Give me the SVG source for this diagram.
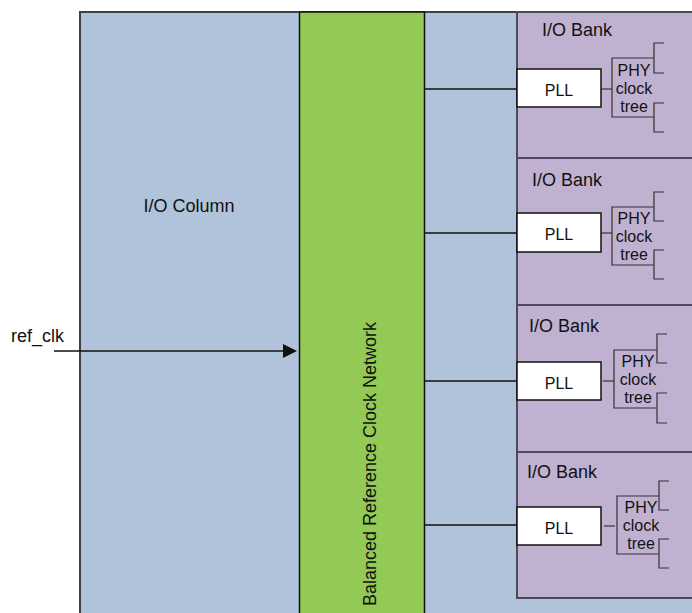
<svg xmlns="http://www.w3.org/2000/svg" width="692" height="613" viewBox="0 0 692 613">
<defs>
<style>
text{font-family:"Liberation Sans",Arial,sans-serif;font-size:18px;fill:#111}
.pll{fill:#fff;stroke:#111;stroke-width:1.5}
.bank{fill:#C1B1D1;stroke:#4a4a58;stroke-width:2}
.ln{stroke:#111;stroke-width:1.5;fill:none}
.tr{stroke:#333;stroke-width:1.2;fill:none}
.pt{font-size:16px}
.ph{font-size:16px}
</style>
</defs>
<g id="io-column">
<rect x="80" y="12" width="614" height="603" fill="#B0C3DB" stroke="#3f3f46" stroke-width="2"/>
<text x="189" y="212" text-anchor="middle">I/O Column</text>
</g>
<g id="clock-network">
<rect x="299.5" y="12" width="125" height="603" fill="#93C955" stroke="#111" stroke-width="1.5"/>
<text transform="translate(376,464) rotate(-90)" text-anchor="middle">Balanced Reference Clock Network</text>
</g>
<g id="bank1">
<rect class="bank" x="517" y="12" width="177" height="146"/>
<text x="542" y="36">I/O Bank</text>
<rect class="pll" x="517" y="69" width="84" height="38"/>
<text class="pt" x="559" y="96" text-anchor="middle">PLL</text>
<path class="tr" d="M654 58H612V117H654M664 43H654V73H664M664 103H654V132H664"/>
<text class="ph" x="634" y="76" text-anchor="middle">PHY</text>
<text class="ph" x="634" y="94" text-anchor="middle">clock</text>
<text class="ph" x="634" y="112" text-anchor="middle">tree</text>
</g>
<g id="bank2">
<rect class="bank" x="517" y="158" width="177" height="147"/>
<text x="532" y="186">I/O Bank</text>
<rect class="pll" x="517" y="213" width="84" height="39"/>
<text class="pt" x="559" y="240" text-anchor="middle">PLL</text>
<path class="tr" d="M654 207H612V265H654M664 192H654V221H664M664 250H654V279H664"/>
<text class="ph" x="634" y="224" text-anchor="middle">PHY</text>
<text class="ph" x="634" y="242" text-anchor="middle">clock</text>
<text class="ph" x="634" y="260" text-anchor="middle">tree</text>
</g>
<g id="bank3">
<rect class="bank" x="517" y="305" width="177" height="147"/>
<text x="529" y="332">I/O Bank</text>
<rect class="pll" x="517" y="362" width="84" height="38"/>
<text class="pt" x="559" y="389" text-anchor="middle">PLL</text>
<path class="tr" d="M657 350H614V408H657M667 334H657V363H667M667 393H657V423H667"/>
<text class="ph" x="638" y="367" text-anchor="middle">PHY</text>
<text class="ph" x="638" y="385" text-anchor="middle">clock</text>
<text class="ph" x="638" y="403" text-anchor="middle">tree</text>
</g>
<g id="bank4">
<rect class="bank" x="517" y="452" width="177" height="146"/>
<text x="527" y="478">I/O Bank</text>
<rect class="pll" x="517" y="507" width="84" height="38"/>
<text class="pt" x="559" y="534" text-anchor="middle">PLL</text>
<path class="tr" d="M659 496H617V554H659M669 481H659V510H669M669 539H659V568H669"/>
<text class="ph" x="641" y="513" text-anchor="middle">PHY</text>
<text class="ph" x="641" y="531" text-anchor="middle">clock</text>
<text class="ph" x="641" y="549" text-anchor="middle">tree</text>
</g>
<g id="ref-clk-label">
<text x="11" y="342">ref_clk</text>
</g>
<g id="connectors">
<line class="ln" x1="54" y1="351" x2="285" y2="351"/>
<polygon points="283,344 297,351 283,358" fill="#111"/>
<line class="ln" x1="424" y1="89" x2="517" y2="89"/>
<line class="ln" x1="424" y1="233" x2="517" y2="233"/>
<line class="ln" x1="424" y1="381" x2="517" y2="381"/>
<line class="ln" x1="424" y1="525" x2="517" y2="525"/>
<line class="tr" x1="601" y1="89" x2="612" y2="89"/>
<line class="tr" x1="601" y1="233" x2="612" y2="233"/>
<line class="tr" x1="603" y1="381" x2="614" y2="381"/>
<line class="tr" x1="604" y1="526" x2="615" y2="526"/>
</g>
</svg>
